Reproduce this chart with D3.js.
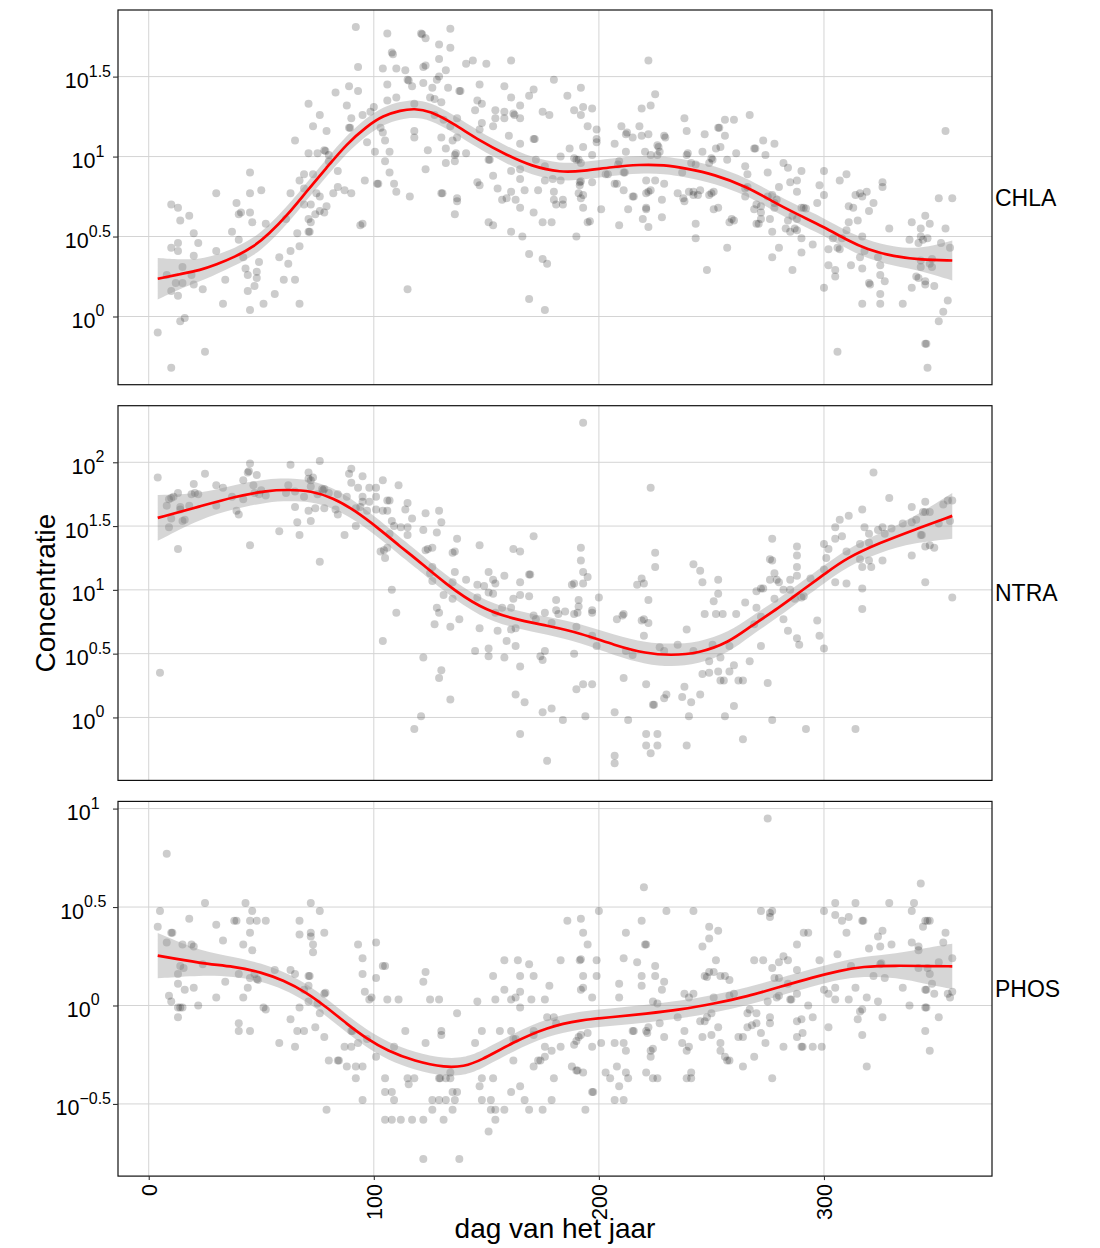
<!DOCTYPE html>
<html>
<head>
<meta charset="utf-8">
<script src="https://cdn.jsdelivr.net/npm/d3@7"></script>
<style>
  body { margin: 0; background: #fff; }
  text { font-family: "Liberation Sans", Arial, Helvetica, sans-serif; fill: #000; }
</style>
</head>
<body>
<svg id="chart"></svg>
<script>
// points: [dag van het jaar, log10(concentratie)]
var chlaPoints = [
  [92,1.81],[106,1.77],[108,1.65],[108.5,1.64],[93,1.56],[104,1.55],[110,1.55],[83,1.40],[89,1.44],[93,1.41],[106,1.45],[71,1.33],[88,1.32],[106,1.35],[110,1.37],[76,1.26],[90,1.24],[95,1.26],[98.5,1.28],[100,1.31],[73,1.19],[79,1.16],[89,1.18],[89.5,1.18],[103,1.18],[104,1.15],[65,1.10],[97,1.09],[105,1.10],[78,1.04],[78.5,1.035],[71,1.02],[75,1.02],[80,1.01],[100.5,1.03],[107,1.03],[80,0.97],[105,0.97],[84,0.91],[69,0.89],[73,0.89],[107,0.90],[96,0.85],[101.5,0.83],[102,0.83],[109,0.83],[67,0.85],[45,0.90],[63,0.77],[69,0.80],[74.5,0.77],[82,0.77],[84,0.81],[87,0.79],[90,0.77],[110,0.78],[30,0.77],[45,0.77],[50,0.79],[39,0.71],[10,0.70],[13,0.68],[18,0.63],[14,0.60],[40,0.64],[41,0.65],[45,0.65],[46,0.59],[52,0.58],[61,0.61],[69,0.70],[72,0.70],[76,0.75],[74,0.64],[76,0.66],[78,0.65],[79,0.69],[71,0.61],[72,0.59],[71,0.53],[71.5,0.53],[66,0.52],[94,0.57],[95,0.58],[20,0.52],[22,0.46],[13,0.46],[10,0.43],[13,0.41],[37,0.53],[40,0.48],[30,0.41],[20,0.38],[42,0.37],[58,0.37],[63,0.41],[67,0.44],[15,0.31],[8,0.26],[12,0.21],[15,0.21],[19,0.26],[20,0.20],[24,0.17],[34,0.23],[43,0.30],[44,0.26],[48,0.28],[48,0.24],[49,0.34],[47,0.19],[44,0.16],[62,0.33],[60,0.23],[65,0.23],[10,0.16],[13,0.13],[33,0.08],[51,0.08],[56,0.14],[67,0.08],[45,0.04],[14,-0.03],[16,-0.01],[4,-0.10],[25,-0.22],[10,-0.32],
  [121,1.77],[121.5,1.765],[123,1.74],[134,1.80],[129,1.70],[134,1.68],[129,1.61],[122,1.56],[123,1.57],[132,1.54],[141,1.58],[144,1.60],[150,1.58],[161,1.60],[114,1.54],[115,1.48],[115.5,1.475],[117,1.44],[122,1.46],[128,1.48],[129,1.50],[126,1.43],[133,1.43],[138,1.41],[138.5,1.41],[147,1.45],[158,1.44],[171,1.42],[180,1.48],[169,1.38],[161,1.37],[186,1.38],[192,1.43],[125,1.37],[127,1.36],[130,1.34],[118,1.33],[146,1.35],[148,1.33],[145,1.29],[154,1.29],[158,1.28],[165,1.32],[162,1.27],[162.5,1.26],[165,1.24],[154,1.24],[158,1.24],[175,1.28],[178,1.26],[189,1.29],[193,1.31],[192,1.26],[197,1.30],[118,1.16],[118,1.12],[127,1.26],[131,1.23],[134,1.19],[137,1.24],[147,1.17],[148,1.21],[153,1.19],[160,1.13],[165,1.08],[171,1.11],[171.5,1.11],[130,1.12],[135,1.10],[137,1.12],[132,1.05],[124,1.04],[136,1.01],[136.5,1.02],[141,1.02],[151,0.98],[151.5,0.98],[132,0.96],[136,0.97],[123,0.92],[153,0.88],[146,0.84],[147,0.82],[155,0.80],[157,0.73],[159,0.74],[161,0.78],[163,0.73],[165,0.68],[167,0.79],[165,0.86],[161,0.91],[165,0.92],[172,0.98],[176,0.94],[176,0.85],[173,0.79],[179.5,0.86],[183,0.85],[180,0.78],[180,0.73],[181,0.70],[184,0.73],[184,0.70],[171,0.65],[175,0.59],[179,0.59],[183,1.00],[187,1.05],[189,0.99],[190,0.98],[191,0.98],[192,0.96],[193,1.06],[195,1.19],[197,1.01],[191.5,0.84],[192,0.845],[191.5,0.82],[191,0.77],[192,0.74],[193,0.76],[193,0.68],[195,0.59],[196,0.595],[190,0.50],[197,0.84],[166,0.50],[161,0.53],[151,0.59],[153,0.57],[137,0.72],[137,0.74],[136,0.64],[130,0.77],[130.5,0.77],[116,0.75],[169,0.39],[175,0.36],[177,0.33],[115,0.17],[169,0.11],[176,0.04],
  [199,1.09],[199,1.11],[199,1.17],[201,0.67],[203,0.89],[204,0.89],[207,1.08],[209,0.97],[208.5,0.95],[210,1.19],[212,1.14],[212.5,1.15],[212,1.03],[211,0.90],[211.5,0.90],[207,0.83],[208,0.83],[211,0.79],[213,0.67],[209,0.57],[215,1.12],[218,1.19],[219,1.30],[223,1.32],[222,1.60],[225,1.39],[219,1.13],[222,1.14],[220.5,1.03],[223,1.01],[226,1.01],[227,1.03],[229,1.13],[229.5,1.12],[226,1.07],[226.5,1.06],[221,0.85],[222,0.78],[221,0.77],[223,0.79],[225,0.85],[229,0.83],[215,0.75],[215.5,0.75],[221,0.67],[221,0.68],[219.5,0.61],[222,0.56],[228,0.73],[228,0.62],[238,1.24],[239,1.16],[239,1.01],[239.5,1.02],[237,0.90],[235,0.77],[238,0.72],[237.5,0.74],[240,0.78],[242,0.78],[243,0.58],[243,0.49],[241,0.96],[243,0.95],
  [247,1.14],[253,1.18],[253.5,1.18],[256,1.23],[260,1.23],[267,1.26],[256,1.13],[254,1.06],[252,1.05],[246,1.03],[250,0.99],[249,0.96],[250.5,0.98],[257,0.98],[261,1.02],[265,0.94],[269,1.05],[269.5,1.05],[273,1.10],[274,1.01],[278,1.08],[266,0.89],[275,0.90],[282,0.96],[284,0.93],[290,0.91],[285,0.84],[288,0.85],[280,0.81],[288,0.78],[298,0.82],[300,0.91],[300,0.76],[297,0.71],[307,0.85],[310,0.89],[314,0.76],[316,0.77],[317,0.75],[319,0.78],[326,0.84],[326,0.81],[322,0.71],[320,0.66],[313,0.68],[311,0.69],[315,0.60],[311,0.59],[310,0.54],[329,0.55],[290,0.68],[291,0.68],[292,0.675],[286,0.63],[288,0.61],[284,0.60],[283,0.55],[285,0.53],[287,0.55],[288,0.54],[290,0.49],[295,0.45],[290,0.40],[286,0.29],[280,0.43],[277,0.37],[277,0.53],[276,0.61],[272,0.61],[271,0.58],[270,0.58],[272,0.65],[272,0.69],[270,0.70],[269,0.67],[278,0.71],[278,0.68],[279,0.73],[277,0.76],[275,0.75],[265,0.80],[266,0.81],[265,0.75],[259,0.61],[260,0.60],[258,0.59],[253,0.68],[251,0.67],[250,0.77],[249,0.76],[251,0.78],[245,0.79],[244,0.76],[242,0.76],[257,0.43],[248,0.29],[304,0.49],[308,0.49],[302,0.42],[307,0.42],[306,0.43],[312,0.32],[302,0.32],[305,0.29],[305,0.25],[300,0.18],[317,0.50],[318,0.41],[316,0.37],[317,0.30],[320,0.21],[320.5,0.20],[324,0.37],[325,0.32],[325,0.26],[327,0.22],[325,0.14],[317,0.08],[325,0.08],[335,0.08],[338,0.48],[339,0.59],[343,0.55],[345,0.63],[347,0.58],[343,0.50],[344,0.48],[346,0.49],[342,0.46],[352,0.46],[356,0.43],[354,0.55],[351,0.74],[357,0.74],[354,1.16],[343,0.35],[343,0.31],[348,0.36],[348,0.31],[347,0.33],[341,0.25],[342,0.24],[345,0.22],[345,0.20],[349,0.19],[339,0.18],[355,0.10],[353,0.03],[351,-0.03],[345,-0.17],[345.5,-0.17],[346,-0.32],[306,-0.22]
];

var ntraPoints = [
  [4,1.88],[5,0.35],[9,1.71],[10,1.72],[11,1.73],[8,1.66],[13,1.76],[9,1.49],[13,1.32],[10,1.56],[14,1.65],[14,1.63],[15,1.54],[16,1.55],[20,1.83],[19,1.75],[20.5,1.76],[22,1.75],[18,1.66],[25,1.91],[30,1.82],[33,1.80],[30,1.66],[37,1.73],[39,1.62],[40,1.59],[42,1.71],[42,1.86],[44,1.92],[44.5,1.93],[45,1.99],[48,1.90],[46.5,1.82],[47,1.76],[49,1.75],[50,1.78],[52,1.74],[45,1.35],[58,1.46],[62,1.82],[63,1.98],[61,1.76],[65,1.77],[65,1.65],[66,1.53],[67,1.43],[69,1.73],[71,1.92],[71,1.87],[72,1.86],[73,1.88],[72,1.81],[71,1.62],[72,1.54],[74,1.64],[76,2.01],[76,1.22],[75,1.75],[77,1.79],[77.5,1.78],[78,1.79],[78,1.64],[80,1.76],[83,1.63],[84,1.75],[84,1.59],[87,1.43],[88,1.73],[89,1.91],[90,1.95],[90,1.84],[93,1.80],[95,1.73],[95,1.69],[95,1.89],[92,1.64],[94,1.65],[92,1.50],[98,1.80],[98,1.69],[97,1.62],[101,1.80],[101,1.73],[104,1.86],[101,1.63],[106,1.70],[107,1.70],[104,1.62],[106,1.62],[108,1.54],[109,1.50],[107,1.44],[106,1.33],[103,1.30],[104.5,1.31],[105,1.25],[108,1.00],[110,0.82],[104,0.60],
  [193,2.31],[223,1.80],[111,1.82],[115,1.68],[114,1.63],[117,1.56],[123,1.60],[129,1.62],[130,1.53],[112,1.49],[115,1.49],[115,1.43],[122,1.47],[128,1.45],[137,1.40],[123,1.31],[124,1.32],[126,1.33],[135,1.29],[136,1.30],[147,1.35],[162,1.32],[165,1.30],[171,1.42],[192,1.33],[192,1.23],[225,1.29],[225,1.18],[242,1.20],[126,1.18],[125,1.13],[126,1.07],[136,1.14],[135,1.06],[141,1.08],[146,1.04],[151,1.14],[153,1.08],[154,1.05],[149,1.03],[151,0.98],[153,0.97],[158,1.11],[165,1.06],[169,1.12],[169.5,1.12],[131,0.96],[135,0.93],[146,0.94],[162,0.93],[165,0.96],[169,0.95],[128,0.86],[129,0.82],[127,0.73],[134,0.71],[138,0.77],[147,0.70],[155,0.68],[157,0.86],[161,0.86],[154,0.82],[161,0.69],[163,0.70],[159,0.60],[163,0.56],[171,0.80],[172,0.77],[176,0.82],[179,0.74],[181,0.92],[181,0.84],[182,0.81],[185,0.83],[188,1.04],[189,1.05],[193,1.14],[193,1.05],[195,1.10],[191,0.92],[191,0.87],[190.5,0.82],[190,0.71],[189,0.81],[197,0.84],[197,0.82],[200,0.94],[199,0.56],[197,0.64],[145,0.52],[151,0.54],[151,0.48],[158,0.47],[174,0.48],[175,0.45],[176,0.52],[165,0.40],[189,0.50],[122,0.47],[130,0.37],[129,0.31],[134,0.14],[121,0.01],[118,-0.09],[163,0.18],[167,0.12],[165,-0.13],[175,0.04],[179,0.07],[184,-0.02],[177,-0.34],[190,0.22],[193,0.26],[197,0.26],[194,0.01],[207,-0.30],[207,-0.36],[207,0.04],[211,0.31],[213,-0.02],[208,0.77],[211,0.81],[210.5,0.80],[212,0.52],[215,0.49],[217,1.04],[219,1.09],[220,1.05],[222,0.92],[219,0.76],[220,0.77],[222,0.74],[220,0.64],[227,0.55],[229,0.52],[235,0.57],[239,0.69],[242,0.52],[221,0.26],[224,0.10],[224.5,0.10],[229,0.15],[230,0.18],[237,0.16],[238,0.24],[241,0.12],[240,0.01],[221,-0.13],[226,-0.13],[221,-0.22],[226,-0.22],[223,-0.28],[239,-0.22],
  [245,1.15],[246,1.06],[253,1.08],[253,0.97],[251,0.91],[247,0.81],[252,0.81],[255,0.81],[261,0.81],[265,0.90],[270,0.86],[270,0.99],[272,1.01],[273,1.01],[269,0.73],[272,0.79],[272,0.56],[276,1.24],[277,1.23],[277,1.40],[278,1.13],[276,1.08],[279,1.08],[280,1.06],[278,0.93],[282,1.00],[285,1.00],[285,1.08],[282,0.77],[284,0.68],[288,1.34],[288,1.27],[288,1.18],[288,1.11],[287,0.93],[291,0.95],[290,0.94],[288,0.62],[289,0.57],[297,0.76],[298,0.64],[300,0.54],[294,1.09],[300,1.36],[302,1.32],[301,1.25],[300,1.16],[305,1.06],[305,1.49],[305,1.40],[308,1.42],[307,1.55],[311,1.58],[310,1.30],[310,1.05],[316,1.24],[317,1.18],[320,1.23],[321,1.18],[317,1.01],[317,0.85],[317,1.63],[318,1.49],[316,1.36],[320,1.37],[320,1.44],[322,1.92],[324,1.47],[326,1.49],[327,1.44],[326,1.23],[329,1.72],[330,1.48],[335,1.52],[339,1.65],[339,1.27],[339,1.53],[341,1.55],[343,1.43],[343.5,1.43],[344,1.61],[345,1.61],[347,1.61],[345,1.69],[345,1.34],[347,1.35],[349,1.33],[345,1.06],[351,1.52],[353,1.67],[355,1.70],[357,1.70],[356,1.54],[357,0.94],[292,-0.09],[314,-0.09],[277,-0.02],[264,-0.17],[260,0.09],[256,0.01],[245,0.18],[275,0.27],[262,0.29],[264,0.29],[254,0.29],[255.5,0.29],[253,0.36],[249,0.35],[258,0.36],[246,0.34],[249,0.44],[254,0.47],[260,0.41],[267,0.44],[258,0.56],[250.5,0.57]
];

var phosPoints = [
  [4,0.40],[5,0.48],[8,0.77],[8,0.32],[10,0.37],[10.5,0.37],[9,0.05],[10,0.02],[13,0.16],[13,0.11],[13,-0.06],[14,0.20],[15.5,0.19],[15,0.31],[16,0.08],[14,-0.01],[15,-0.01],[13,-0.01],[18,0.44],[19,0.31],[20,0.30],[20,0.09],[22,0.00],[24,0.21],[25,0.52],[30,0.41],[30,0.04],[33,0.33],[34,0.12],[38,0.43],[39,0.43],[40,0.16],[40,-0.09],[40,-0.13],[45,-0.13],[42,0.31],[42,0.04],[43,0.52],[44,0.09],[45,0.43],[45,0.14],[45,0.37],[46,0.48],[46,0.28],[47,0.16],[48,0.43],[48.5,0.13],[48,0.135],[51,-0.01],[52,-0.02],[52,0.43],[56,0.18],[58,-0.19],[63,0.18],[63,-0.07],[65,0.16],[65,-0.21],[66,-0.13],[69,-0.13],[67,0.43],[67,0.36],[67,-0.01],[69,0.08],[71,0.15],[71.5,0.15],[71,0.10],[71,0.02],[72,0.52],[72,0.37],[72,0.35],[73,0.31],[73,0.27],[74,-0.11],[76,0.48],[76,-0.04],[75,0.01],[78,0.37],[78,-0.16],[78,0.06],[78.5,0.065],[79,-0.53],[80,-0.28],[84,-0.28],[84.5,-0.28],[87,-0.21],[90,-0.21],[88,-0.31],[92,-0.31],[95,-0.31],[92,-0.37],[90,-0.13],[90.5,-0.13],[93,-0.19],[93,0.31],[95,0.24],[95,0.16],[96,0.07],[98,0.03],[99,0.04],[95,-0.48],[97,-0.17],[101,0.32],[101,0.14],[101,-0.26],[104,0.20],[105,0.20],[106,0.03],[105,-0.37],[105,-0.44],[108,-0.44],[109,-0.48],[105,-0.58],[108,-0.58],[109,-0.21],[111,0.03],
  [112,-0.58],[117,-0.58],[122,-0.58],[131,-0.58],[122,0.12],[123,0.17],[125,0.03],[129,0.03],[114,-0.13],[115,-0.37],[115.5,-0.40],[118,-0.37],[123,-0.19],[126,-0.48],[129,-0.48],[132,-0.48],[126,-0.53],[129,-0.37],[129.5,-0.37],[132,-0.37],[134,-0.37],[130,-0.13],[130,-0.15],[134,-0.34],[135,-0.44],[137,-0.44],[135,-0.53],[136,-0.48],[137,-0.04],[122,-0.78],[138,-0.78],[146,0.02],[145,-0.19],[147,-0.41],[148,-0.13],[148,-0.37],[148,-0.48],[152,-0.48],[152,-0.53],[154,-0.53],[151,-0.64],[154,-0.58],[153,0.15],[153,-0.37],[154,0.03],[156,-0.13],[158,0.23],[158,0.08],[158,-0.53],[161,0.03],[163,0.04],[165,0.07],[161,-0.13],[161,-0.44],[162,-0.17],[163,-0.17],[162,-0.28],[164,0.23],[165,0.15],[165,-0.01],[165,-0.41],[167,-0.48],[169,0.21],[169,-0.53],[170,0.03],[171,0.15],[171,-0.13],[171,-0.15],[171,-0.31],[173,-0.28],[174,-0.28],[175,-0.53],[176,0.03],[176,-0.21],[176,-0.26],[177,-0.06],[180,-0.06],[178,0.10],[179,-0.48],[180,-0.37],[179,-0.23],[181,-0.09],[183,0.23],[183,-0.21],[186,0.43],[188,-0.31],[190,-0.33],[190.5,-0.33],[189,-0.20],[190,-0.18],[191,-0.16],[192,-0.15],[191.5,0.23],[192,0.235],[192,0.44],[193,0.37],[195,0.31],[193,0.15],[192,0.08],[193,0.09],[193,-0.34],[194,-0.53],[195,-0.14],[197,0.04],[197,-0.21],[197,-0.44],[197.5,-0.44],[199,0.23],[199,0.15],[200,0.48],[201,-0.19],[203,-0.34],[205,-0.37],[207,-0.19],[207,-0.48],[211,-0.48],[208,-0.31],[209,0.11],[209,0.04],[209,-0.41],[211,-0.19],[211,0.24],[212,0.37],[212,-0.23],[213,-0.37],[212,-0.34],[215,-0.13],[215.5,-0.13],[217,0.22],[219,0.43],[220,0.60],[220.5,0.31],[221,0.31],[219,0.15],[219,0.10],[221,-0.13],[221.5,-0.14],[222,-0.11],[221,-0.34],[224,-0.37],[226,-0.37],[223,-0.23],[224,-0.22],[223,-0.26],[225,0.20],[225,0.15],[224,0.02],[226,0.01],[227,-0.09],[229,0.12],[228,0.08],[229,-0.16],[230,0.48],[235,-0.06],[237,-0.19],[238,0.06],[240,0.04],[242,0.06],[238,-0.13],[239,-0.37],[241,-0.37],[241,-0.34],[239,-0.23],[240,-0.21],[242,0.48],
  [246,0.30],[249,0.40],[249,0.34],[253,0.38],[247,0.15],[248,0.145],[249,0.17],[251,0.17],[252,0.23],[254,0.15],[256,0.15],[258,0.13],[251,0.04],[247,-0.08],[248,-0.06],[250,-0.04],[245,-0.08],[246,-0.16],[250,-0.15],[253,-0.11],[254,-0.19],[254,-0.23],[256,-0.26],[257,-0.28],[258,-0.28],[258,0.05],[260,0.06],[262,-0.16],[264,-0.16],[264,-0.31],[266,-0.04],[267,-0.02],[266,-0.11],[268,-0.10],[269,0.23],[269,-0.26],[270,-0.04],[270,-0.09],[272,0.48],[272,-0.14],[273,0.23],[274,-0.19],[275,0.95],[276,0.47],[277,0.48],[276,0.45],[275,0.02],[276,-0.06],[276,-0.09],[277,0.19],[277,-0.37],[278,0.14],[280,0.14],[280,0.22],[279,0.04],[280,0.05],[282,0.25],[282,-0.21],[284,0.23],[284,0.11],[285,0.03],[285.5,0.03],[288,0.31],[288,0.18],[288,0.06],[288,-0.08],[290,-0.07],[288,-0.16],[290,-0.21],[290.5,-0.21],[291,0.37],[293,0.37],[290.5,-0.14],[293,0.00],[295,-0.06],[295,-0.21],[299,-0.21],[298,0.23],[300,0.48],[300,0.08],[302,0.06],[302,-0.11],[305,0.52],[305,0.46],[305,0.09],[305,0.03],[306,0.26],[308,0.43],[311,0.45],[310,0.37],[311,0.03],[312,0.20],[314,0.52],[314,0.09],[315,-0.07],[316,-0.03],[317,-0.02],[317,0.43],[317.5,0.43],[317,-0.15],[319,-0.31],[319,0.04],[320,0.29],[322,0.15],[324,0.35],[324,0.02],[325,0.30],[325,0.21],[325.5,0.215],[326,0.38],[326,-0.06],[327,0.14],[329,0.52],[330,0.31],[335,0.09],[338,0.00],[339,0.48],[339,0.32],[340,0.52],[342,0.30],[342,0.28],[342,0.19],[343,0.62],[344,0.40],[345,0.43],[346,0.43],[347,0.43],[345,0.08],[345.5,0.08],[345,-0.01],[345.5,-0.01],[345,-0.13],[346,0.19],[347,0.16],[348,0.11],[347,-0.23],[349,0.06],[351,0.22],[351,-0.06],[353,0.32],[354,0.37],[355,0.06],[356,0.04],[357,0.07],[357,0.24]
];

// loess fit (log10) with half width of the confidence band
var chlaSmoothDay = [4, 14, 23, 30, 38, 47, 53, 62, 70, 79, 88, 97, 104, 112, 118, 125, 135, 147, 159, 170, 183, 193, 206, 218, 229, 239, 251, 266, 277, 288, 300, 310, 319, 331, 343, 357];
var chlaSmoothFit = [0.236, 0.265, 0.29, 0.325, 0.37, 0.44, 0.51, 0.64, 0.78, 0.93, 1.08, 1.19, 1.255, 1.29, 1.30, 1.285, 1.21, 1.10, 1.01, 0.94, 0.90, 0.91, 0.935, 0.95, 0.948, 0.925, 0.89, 0.81, 0.72, 0.64, 0.56, 0.48, 0.42, 0.375, 0.355, 0.35];
var chlaSmoothSe = [0.13, 0.09, 0.07, 0.06, 0.055, 0.055, 0.055, 0.055, 0.055, 0.055, 0.055, 0.055, 0.055, 0.055, 0.055, 0.055, 0.055, 0.055, 0.055, 0.055, 0.055, 0.055, 0.055, 0.055, 0.055, 0.055, 0.055, 0.055, 0.055, 0.055, 0.055, 0.055, 0.057, 0.06, 0.067, 0.125];

var ntraSmoothDay = [4, 23, 38, 53, 62, 72, 82, 91, 103, 112, 118, 132, 147, 162, 177, 192, 207, 221, 232, 244, 258, 267, 280, 291, 300, 310, 325, 340, 357];
var ntraSmoothFit = [1.564, 1.655, 1.73, 1.78, 1.785, 1.777, 1.72, 1.63, 1.47, 1.335, 1.255, 1.045, 0.86, 0.77, 0.72, 0.66, 0.565, 0.50, 0.487, 0.50, 0.59, 0.71, 0.86, 1.006, 1.12, 1.25, 1.37, 1.47, 1.58];
var ntraSmoothSe = [0.18, 0.097, 0.095, 0.09, 0.09, 0.085, 0.08, 0.075, 0.07, 0.07, 0.07, 0.07, 0.07, 0.07, 0.07, 0.075, 0.08, 0.085, 0.09, 0.085, 0.08, 0.075, 0.07, 0.07, 0.07, 0.07, 0.075, 0.1, 0.18];

var phosSmoothDay = [4, 23, 38, 50, 60, 70, 79, 88, 97, 106, 118, 132, 140, 147, 162, 177, 192, 206, 221, 236, 251, 266, 280, 295, 307, 317, 332, 346, 357];
var phosSmoothFit = [0.253, 0.214, 0.198, 0.169, 0.127, 0.067, -0.009, -0.093, -0.17, -0.23, -0.283, -0.316, -0.309, -0.283, -0.186, -0.11, -0.073, -0.059, -0.042, -0.022, 0.009, 0.046, 0.093, 0.143, 0.177, 0.198, 0.203, 0.20, 0.199];
var phosSmoothSe = [0.115, 0.06, 0.05, 0.045, 0.045, 0.045, 0.045, 0.045, 0.045, 0.045, 0.045, 0.045, 0.045, 0.045, 0.045, 0.045, 0.045, 0.045, 0.045, 0.045, 0.045, 0.045, 0.045, 0.045, 0.045, 0.05, 0.06, 0.093, 0.115];

var panelNames = ['CHLA', 'NTRA', 'PHOS'];
var xTicks = [0, 100, 200, 300];
var chlaTicks = [0, 0.5, 1, 1.5];
var ntraTicks = [0, 0.5, 1, 1.5, 2];
var phosTicks = [-0.5, 0, 0.5, 1];

var panels = [
  {name: panelNames[0], pts: chlaPoints, day: chlaSmoothDay, fit: chlaSmoothFit, se: chlaSmoothSe, ticks: chlaTicks},
  {name: panelNames[1], pts: ntraPoints, day: ntraSmoothDay, fit: ntraSmoothFit, se: ntraSmoothSe, ticks: ntraTicks},
  {name: panelNames[2], pts: phosPoints, day: phosSmoothDay, fit: phosSmoothFit, se: phosSmoothSe, ticks: phosTicks}
];

var width = 1100, height = 1248;
var plotLeft = 118, plotRight = 992, plotTop = 10, panelH = 374.7, gap = 21;

var svg = d3.select('#chart').attr('width', width).attr('height', height);

// ggplot style range: data range + 5% on each side
function padded(lo, hi) {
  var r = hi - lo;
  return [lo - 0.05 * r, hi + 0.05 * r];
}

var allDays = [];
panels.forEach(function (p) { p.pts.forEach(function (d) { allDays.push(d[0]); }); });
var x = d3.scaleLinear()
  .domain(padded(d3.min(allDays), d3.max(allDays)))
  .range([plotLeft, plotRight]);

function expLabel(d) {
  return String(d).replace('-', '\u2212');
}

panels.forEach(function (p, i) {
  var y0 = plotTop + i * (panelH + gap);
  var y1 = y0 + panelH;
  var smooth = p.day.map(function (d, k) { return {day: d, fit: p.fit[k], se: p.se[k]}; });

  var lo = Math.min(d3.min(p.pts, function (d) { return d[1]; }), d3.min(smooth, function (d) { return d.fit - d.se; }));
  var hi = Math.max(d3.max(p.pts, function (d) { return d[1]; }), d3.max(smooth, function (d) { return d.fit + d.se; }));
  var y = d3.scaleLinear().domain(padded(lo, hi)).range([y1, y0]);

  var g = svg.append('g').attr('class', 'panel');

  g.append('rect')
    .attr('x', plotLeft).attr('y', y0)
    .attr('width', plotRight - plotLeft).attr('height', panelH)
    .attr('fill', '#fff');

  // grid
  g.selectAll('.gx').data(xTicks).enter().append('line')
    .attr('x1', function (d) { return x(d); })
    .attr('x2', function (d) { return x(d); })
    .attr('y1', y0).attr('y2', y1)
    .attr('stroke', '#d4d4d4').attr('stroke-width', 1);
  g.selectAll('.gy').data(p.ticks).enter().append('line')
    .attr('x1', plotLeft).attr('x2', plotRight)
    .attr('y1', function (d) { return y(d); })
    .attr('y2', function (d) { return y(d); })
    .attr('stroke', '#d4d4d4').attr('stroke-width', 1);

  // points
  g.selectAll('circle').data(p.pts).enter().append('circle')
    .attr('cx', function (d) { return x(d[0]); })
    .attr('cy', function (d) { return y(d[1]); })
    .attr('r', 4)
    .attr('fill', '#000')
    .attr('fill-opacity', 0.2);

  // confidence band + fit
  var band = d3.area()
    .curve(d3.curveBasis)
    .x(function (d) { return x(d.day); })
    .y0(function (d) { return y(d.fit - d.se); })
    .y1(function (d) { return y(d.fit + d.se); });
  g.append('path').datum(smooth)
    .attr('d', band)
    .attr('fill', '#999')
    .attr('fill-opacity', 0.4);

  var line = d3.line()
    .curve(d3.curveBasis)
    .x(function (d) { return x(d.day); })
    .y(function (d) { return y(d.fit); });
  g.append('path').datum(smooth)
    .attr('d', line)
    .attr('fill', 'none')
    .attr('stroke', '#ff0000')
    .attr('stroke-width', 2.7);

  g.append('rect')
    .attr('x', plotLeft).attr('y', y0)
    .attr('width', plotRight - plotLeft).attr('height', panelH)
    .attr('fill', 'none')
    .attr('stroke', '#111').attr('stroke-width', 1.2);

  // y axis ticks
  var yAxis = g.append('g').attr('transform', 'translate(' + plotLeft + ',0)')
    .call(d3.axisLeft(y).tickValues(p.ticks).tickSize(5).tickFormat(''));
  yAxis.select('.domain').remove();
  yAxis.selectAll('.tick line').attr('stroke', '#333').attr('stroke-width', 1.1);

  var labels = g.selectAll('.ylab').data(p.ticks).enter().append('text')
    .attr('class', 'ylab')
    .attr('y', function (d) { return y(d) + 11.5; })
    .attr('text-anchor', 'middle')
    .style('font-size', '21.5px');
  labels.append('tspan').text('10');
  labels.append('tspan')
    .attr('dy', -11.5)
    .style('font-size', '16px')
    .text(function (d) { return expLabel(d); });

  var maxW = 0;
  labels.each(function () { maxW = Math.max(maxW, this.getComputedTextLength()); });
  labels.attr('x', 111 - maxW / 2);

  // strip label
  g.append('text')
    .attr('x', plotRight + 3)
    .attr('y', (y0 + y1) / 2 + 8.3)
    .style('font-size', '23px')
    .text(p.name);

  // x axis only under the last panel
  if (i === panels.length - 1) {
    var xAxis = g.append('g').attr('transform', 'translate(0,' + y1 + ')')
      .call(d3.axisBottom(x).tickValues(xTicks).tickSize(4).tickFormat(d3.format('d')));
    xAxis.select('.domain').remove();
    xAxis.selectAll('.tick line').attr('stroke', '#333').attr('stroke-width', 1.1);
    xAxis.selectAll('.tick text')
      .attr('transform', 'rotate(-90)')
      .attr('x', -8)
      .attr('y', 0)
      .attr('dy', '0.36em')
      .attr('text-anchor', 'end')
      .attr('fill', '#000')
      .style('font-size', '21.5px')
      .style('font-family', '"Liberation Sans", Arial, sans-serif');
  }
});

var plotBottom = plotTop + 3 * panelH + 2 * gap;

svg.append('text')
  .attr('transform', 'translate(55,' + (plotTop + plotBottom) / 2 + ') rotate(-90)')
  .attr('text-anchor', 'middle')
  .style('font-size', '28px')
  .text('Concentratie');

svg.append('text')
  .attr('x', (plotLeft + plotRight) / 2)
  .attr('y', 1238)
  .attr('text-anchor', 'middle')
  .style('font-size', '28px')
  .text('dag van het jaar');
</script>
</body>
</html>
